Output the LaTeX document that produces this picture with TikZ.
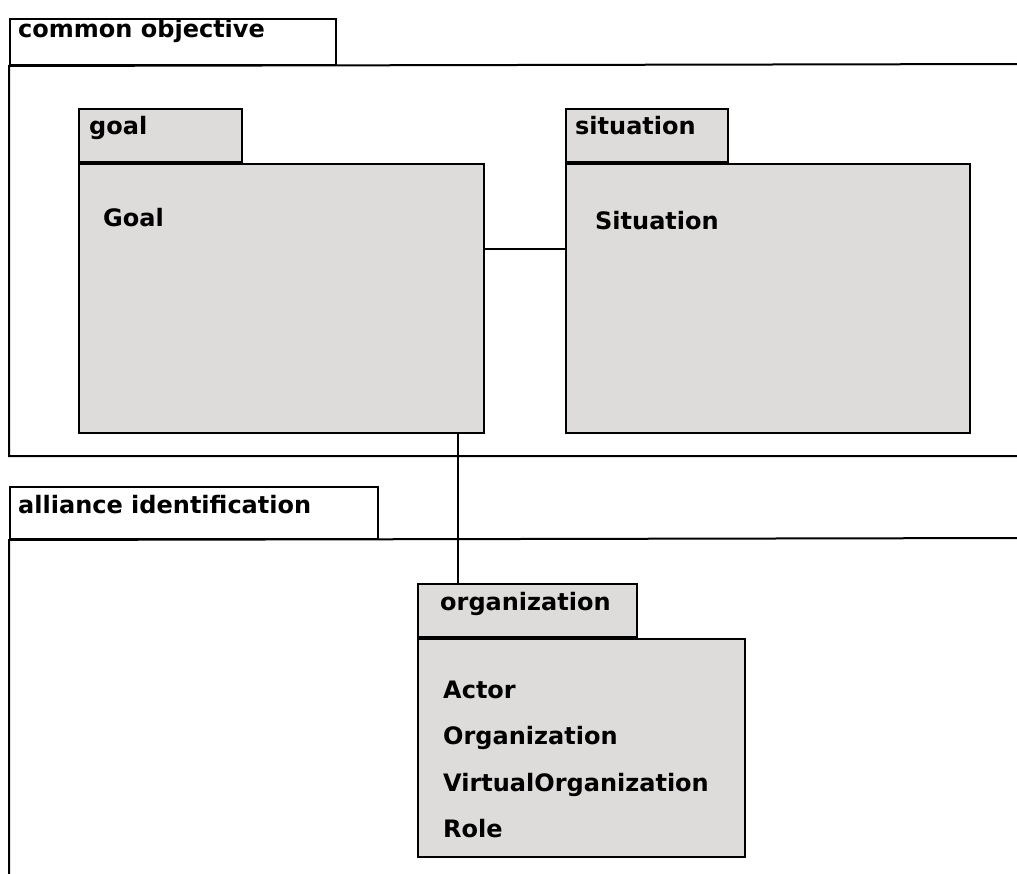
\documentclass[tikz,border=0pt]{standalone}
\usepackage{fontspec}
\setmainfont{DejaVu Sans}
\usetikzlibrary{positioning}
\definecolor{pkggray}{RGB}{222,219,219}

\begin{document}
\begin{tikzpicture}[
            x=1pt, y=-1pt,
            frame/.style={line width=2pt},
            tab/.style={draw, line width=2pt, anchor=north west, inner sep=0pt},
            pkgtab/.style={tab, fill=pkggray},
            pkgbody/.style={tab, fill=pkggray},
            lbl/.style={font=\fontsize{24}{29}\selectfont\bfseries, anchor=base west, inner sep=0pt},
            link/.style={line width=1.7pt}
        ]
        \useasboundingbox (0,0) rectangle (1017,874);

        % common objective frame
        \node[tab, minimum width=326pt, minimum height=46pt] (cotab) at (9,18) {};
        \node[lbl] (cotext) at ([xshift=9pt, yshift=-20pt]cotab.north west) {common objective};
        \draw[frame] (1030,64) -- (cotab.south west) -- (9,456) -- (1030,456);

        % alliance identification frame
        \node[tab, minimum width=368pt, minimum height=52pt] (aitab) at (9,486) {};
        \node[lbl] (aitext) at ([xshift=9pt, yshift=-27pt]aitab.north west) {alliance identification};
        \draw[frame] (1030,538) -- (aitab.south west) -- (9,890);

        % packages
        \node[pkgtab, minimum width=163pt, minimum height=53pt] (goaltab) at (78,108) {};
        \node[pkgbody, minimum width=405pt, minimum height=269pt] (goalbody) at (goaltab.south west) {};
        \node[lbl] (goalname) at ([xshift=11pt, yshift=-27pt]goaltab.north west) {goal};
        \node[lbl] (goalitem) at ([xshift=25pt, yshift=-64pt]goalbody.north west) {Goal};

        \node[pkgtab, minimum width=162pt, minimum height=53pt] (sittab) at (565,108) {};
        \node[pkgbody, minimum width=404pt, minimum height=269pt] (sitbody) at (sittab.south west) {};
        \node[lbl] (sitname) at ([xshift=10pt, yshift=-27pt]sittab.north west) {situation};
        \node[lbl] (situitem) at ([xshift=30pt, yshift=-67pt]sitbody.north west) {Situation};

        \node[pkgtab, minimum width=219pt, minimum height=53pt] (orgtab) at (417,583) {};
        \node[pkgbody, minimum width=327pt, minimum height=218pt] (orgbody) at (orgtab.south west) {};
        \node[lbl] (orgname) at ([xshift=23pt, yshift=-27pt]orgtab.north west) {organization};
        \foreach \item [count=\i] in {Actor,Organization,VirtualOrganization,Role}
            \node[lbl] (orgitem\i) at ([xshift=26pt, yshift={-60pt-46.5pt*(\i-1)}]orgbody.north west) {\item};

        % links
        \draw[link] ([yshift=49.5pt]goalbody.east) -- ([yshift=49.5pt]sitbody.west);
        \draw[link] ([xshift=-27pt]goalbody.south east) -- ([xshift=-27pt]goalbody.south east |- orgtab.north);
        \end{tikzpicture}
\end{document}
